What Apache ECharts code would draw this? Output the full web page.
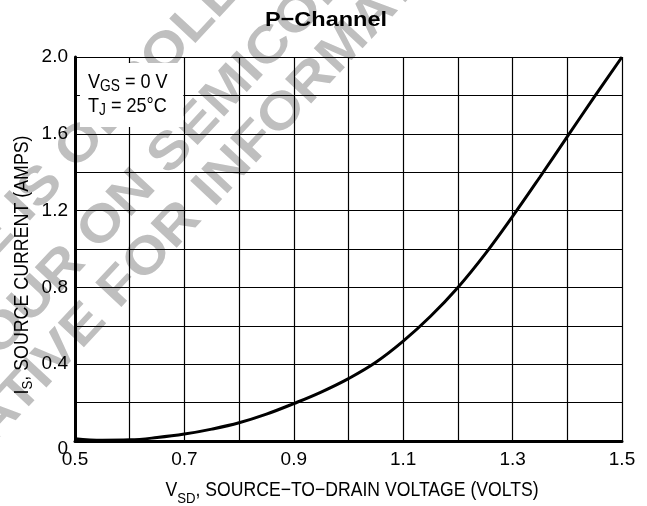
<!DOCTYPE html>
<html>
<head>
<meta charset="utf-8">
<script src="https://cdn.jsdelivr.net/npm/echarts@6/dist/echarts.min.js"></script>
<style>
html,body{margin:0;padding:0;background:#fff;}
#chart{width:647px;height:506px;}
</style>
</head>
<body>
<div id="chart"></div>
<script>
// ---- data ----
const vsd = [0.50,0.55,0.60,0.65,0.70,0.75,0.80,0.85,0.90,0.95,1.00,1.05,1.10,1.15,1.20,1.25,1.30,1.35,1.40,1.45,1.50];
const isAmps = [0.012,0.004,0.006,0.018,0.036,0.062,0.095,0.14,0.195,0.255,0.325,0.41,0.52,0.65,0.80,0.975,1.17,1.375,1.585,1.795,2.0];
const xTickLabels = ['0.5','0.7','0.9','1.1','1.3','1.5'];
const yTickLabels = ['0','0.4','0.8','1.2','1.6','2.0'];
const titleText = 'P\u2212Channel';
const xNameParts = ['V', 'SD', ', SOURCE\u2212TO\u2212DRAIN VOLTAGE (VOLTS)'];
const yNameParts = ['I', 'S', ', SOURCE CURRENT (AMPS)'];
const legendLine1 = ['V', 'GS', ' = 0 V'];
const legendLine2 = ['T', 'J', ' = 25\u00B0C'];
const boxCorners = [[0.509, 1.969], [0.698, 1.636]];
const watermarkLines = ['THIS DEVICE IS OBSOLETE', 'CONTACT YOUR ON SEMICONDUCTOR', 'REPRESENTATIVE FOR INFORMATION'];

const SANS = '"Liberation Sans", Arial, Helvetica, sans-serif';

function richStyle(main, sub, padTop) {
  return {
    n: {fontFamily: SANS, fontSize: main, lineHeight: main + 2, verticalAlign: 'top', color: '#000'},
    s: {fontFamily: SANS, fontSize: sub, lineHeight: sub, padding: [padTop, 0, 0, 0], verticalAlign: 'top', color: '#000'}
  };
}
function richText(parts) {
  return '{n|' + parts[0] + '}{s|' + parts[1] + '}{n|' + parts[2] + '}';
}

const seriesData = vsd.map((v, i) => [v, isAmps[i]]);

const chart = echarts.init(document.getElementById('chart'), null, {renderer: 'canvas'});

const wmPos = [[20, 210], [136, 190], [112, 296]];
const wmAngle = 47 * Math.PI / 180;

const option = {
  backgroundColor: '#fff',
  animation: false,
  grid: {left: 75, right: 25, top: 57, bottom: 65, containLabel: false},
  xAxis: {
    type: 'value', min: 0.5, max: 1.5, interval: 0.1,
    axisLine: {show: true, onZero: false, lineStyle: {color: '#000', width: 3}},
    axisTick: {show: false},
    splitLine: {show: true, lineStyle: {color: '#000', width: 1.2}},
    axisLabel: {
      margin: 9, color: '#000', fontFamily: SANS, fontSize: 19,
      formatter: function (v) {
        const t = xTickLabels.find(s => Math.abs(parseFloat(s) - v) < 1e-6);
        return t === undefined ? '' : t;
      }
    }
  },
  yAxis: {
    type: 'value', min: 0, max: 2.0, interval: 0.2,
    axisLine: {show: true, onZero: false, lineStyle: {color: '#000', width: 3}},
    axisTick: {show: false},
    splitLine: {show: true, lineStyle: {color: '#000', width: 1.2}},
    axisLabel: {
      margin: 7, color: '#000', fontFamily: SANS, fontSize: 19,
      formatter: function (v) {
        const t = yTickLabels.find(s => Math.abs(parseFloat(s) - v) < 1e-6);
        if (t === undefined) return '';
        return v === 0 ? '{z|' + t + '}' : t;
      },
      rich: {z: {fontFamily: SANS, fontSize: 19, color: '#000', padding: [16, 0, 0, 0]}}
    }
  },
  series: [{
    type: 'line',
    data: seriesData,
    smooth: 0.4,
    showSymbol: false,
    symbol: 'none',
    lineStyle: {color: '#000', width: 3},
    z: 3,
    markArea: {
      silent: true,
      itemStyle: {color: '#fff', opacity: 1, borderWidth: 0},
      data: [[{coord: boxCorners[0]}, {coord: boxCorners[1]}]]
    }
  }],
  graphic: [
    ...watermarkLines.map((t, i) => ({
      type: 'text', x: wmPos[i][0], y: wmPos[i][1], rotation: wmAngle, scaleX: 1.12,
      z: -10, silent: true,
      style: {text: t, fill: '#bfbfbf', font: 'bold 52px ' + SANS, align: 'center', verticalAlign: 'middle'}
    })),
    {
      type: 'text', x: 326, y: 20, scaleX: 1.12, z: 100, silent: true,
      style: {text: titleText, fill: '#000', font: 'bold 21px ' + SANS, align: 'center', verticalAlign: 'middle'}
    },
    {
      type: 'text', x: 352, y: 480, scaleX: 0.88, z: 100, silent: true,
      style: {text: richText(xNameParts), rich: richStyle(20, 15, 11), align: 'center', verticalAlign: 'top'}
    },
    {
      type: 'text', x: 12, y: 265, rotation: Math.PI / 2, scaleX: 0.89, z: 100, silent: true,
      style: {text: richText(yNameParts), rich: richStyle(20, 15, 8), align: 'center', verticalAlign: 'top'}
    },
    {
      type: 'text', x: 88, y: 72, scaleX: 0.86, z: 100, silent: true,
      style: {text: richText(legendLine1), rich: richStyle(21, 16, 7), align: 'left', verticalAlign: 'top'}
    },
    {
      type: 'text', x: 88, y: 96, scaleX: 0.86, z: 100, silent: true,
      style: {text: richText(legendLine2), rich: richStyle(21, 16, 7), align: 'left', verticalAlign: 'top'}
    }
  ]
};
chart.setOption(option);
</script>
</body>
</html>
